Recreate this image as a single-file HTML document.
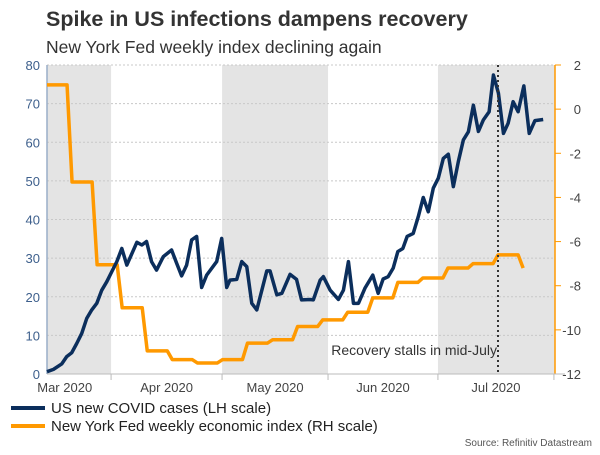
<!DOCTYPE html>
<html><head><meta charset="utf-8"><style>
html,body{margin:0;padding:0;background:#fff;}
body{width:600px;height:450px;overflow:hidden;font-family:"Liberation Sans",Arial,sans-serif;}
svg text{font-family:"Liberation Sans",Arial,sans-serif;}
</style></head><body>
<svg id="chart" width="600" height="450" xmlns="http://www.w3.org/2000/svg">
<text x="46" y="26" font-size="21.5" font-weight="bold" fill="#333">Spike in US infections dampens recovery</text>
<text x="46" y="53" font-size="17.5" fill="#333">New York Fed weekly index declining again</text>
<g id="bands"></g><g id="grid"></g><g id="axes"></g><g id="series"></g>
<line x1="498" y1="65" x2="498" y2="374" stroke="#333" stroke-width="2" stroke-dasharray="2,3"/>
<text x="497" y="355" font-size="14" fill="#333" text-anchor="end">Recovery stalls in mid-July</text>
<line x1="11" y1="408" x2="45" y2="408" stroke="#0b2e5c" stroke-width="4"/>
<text x="51" y="413" font-size="15" fill="#222">US new COVID cases (LH scale)</text>
<line x1="11" y1="426" x2="45" y2="426" stroke="#ff9900" stroke-width="4"/>
<text x="51" y="431" font-size="15" fill="#222">New York Fed weekly economic index (RH scale)</text>
<text x="592" y="446" font-size="10" fill="#555" text-anchor="end">Source: Refinitiv Datastream</text>
</svg>
<script>
const covidDays=[0,1.8,4.1,5.5,6.9,8.3,9.7,11.1,12.5,13.9,15.3,16.7,18.1,19.5,20.9,22.3,25.1,26.5,27.8,29.2,30.6,32.5,34.8,36.2,37.6,39.0,40.4,41.8,43.2,44.6,47.4,48.8,50.2,51.1,53.0,54.4,55.8,57.2,58.6,61.4,62.3,64.2,65.6,67.9,69.7,71.1,73.5,74.4,76.3,77.2,79.1,81.4,82.8,84.2,85.6,87.0,88.8,91.0,92.5,93.9,95.3,96.7,98.0,99.4,100.6,102.3,103.7,105.1,106.5,107.9,109.3,110.7,112.1,113.5,114.9,116.3,117.7,119.1,120.5,121.9,123.5,124.7,126.1,127.5,128.8,130.2,131.6,133.2,134.7,136.3,138.6];
const covidCases=[0.6,1.2,2.6,4.5,5.5,7.9,10.5,14.4,16.6,18.3,21.7,23.9,26.5,29.1,32.5,28.2,34.1,33.4,34.3,29.1,26.9,30.4,32.1,28.7,25.4,28.2,34.7,35.6,22.4,25.6,29.1,35.1,22.4,24.3,24.5,29.1,27.8,18.3,16.6,26.7,26.7,20.5,20.9,25.8,24.5,19.2,19.3,19.2,24.3,25.2,21.7,19.3,21.7,29.1,18.3,18.3,22.2,25.6,20.9,24.6,25.2,27.4,31.7,32.5,35.6,36.4,40.7,45.7,42.0,48.1,50.7,55.8,56.9,48.5,55.0,60.6,62.7,69.6,62.8,65.8,67.9,77.4,72.7,62.3,64.9,70.5,67.9,74.6,62.3,65.6,65.9];
const weekIndex=[0,1,2,3,4,5,6,7,8,9,10,11,12,13,14,15,16,17,18,19];
const nyfedIndex=[1.1,-3.3,-7.05,-9.0,-10.95,-11.35,-11.5,-11.35,-10.6,-10.45,-9.85,-9.55,-9.2,-8.55,-7.85,-7.65,-7.2,-7.0,-6.6,-7.2];
const leftTicks=[0,10,20,30,40,50,60,70,80];
const rightTicks=[2,0,-2,-4,-6,-8,-10,-12];
const monthLabels=["Mar 2020","Apr 2020","May 2020","Jun 2020","Jul 2020"];
const monthBoundaries=[17.9,48.9,78.5,109.2,141.6];
const shadedMonths=[[0,17.9],[48.9,78.5],[109.2,141.9]];

const NS="http://www.w3.org/2000/svg";
const X0=47,X1=555,Y0=374,Y1=65,DMAX=141.9;
const xs=d=>X0+d/DMAX*(X1-X0);
const yl=v=>Y0-v/80*(Y0-Y1);
const yr=v=>Y0-(v+12)/14*(Y0-Y1);
function mk(tag,attrs,parent){const e=document.createElementNS(NS,tag);for(const k in attrs)e.setAttribute(k,attrs[k]);document.getElementById(parent).appendChild(e);return e;}

shadedMonths.forEach(b=>{
  const r=mk('rect',{x:xs(b[0]),y:Y1,width:xs(b[1])-xs(b[0]),height:Y0-Y1,fill:'#e4e4e4'},'bands');
  
  
});
leftTicks.forEach(t=>{
  if(t>0){const g=mk('line',{x1:X0,x2:X1,y1:yl(t),y2:yl(t),stroke:'#c8c8c8','stroke-width':1,'stroke-dasharray':'2,2'},'grid');
  
  }
  const l=mk('text',{x:40,y:yl(t)+5,'font-size':13,fill:'#3d5f8c','text-anchor':'end'},'axes');
  l.textContent=t;
  
  
});
rightTicks.forEach(t=>{
  const tk=mk('line',{x1:X1,x2:X1+6,y1:yr(t),y2:yr(t),stroke:'#ff9900','stroke-width':1},'axes');
  
  
  const l=mk('text',{x:581,y:yr(t)+5,'font-size':13,fill:'#444','text-anchor':'end'},'axes');
  l.textContent=t;
  
  
});
const la=mk('line',{x1:X0,x2:X0,y1:Y1,y2:Y0,stroke:'#9aaec8','stroke-width':1.5},'axes');


const ra=mk('line',{x1:X1,x2:X1,y1:Y1,y2:Y0,stroke:'#ff9900','stroke-width':1.5},'axes');


const xa=mk('line',{x1:X0,x2:X1+10,y1:Y0,y2:Y0,stroke:'#bbb','stroke-width':1},'axes');


monthBoundaries.forEach((b,i)=>{
  const t=mk('line',{x1:xs(b),x2:xs(b),y1:Y0,y2:Y0+6,stroke:'#bbb'},'axes');
  
  
  const prev=i===0?-8:monthBoundaries[i-1];
  const l=mk('text',{x:(xs(prev)+xs(b))/2,y:Y0+18,'font-size':13,fill:'#444','text-anchor':'middle'},'axes');
  l.textContent=monthLabels[i];
  
  
});
let op=[];
weekIndex.forEach((w,i)=>{const d=w*7;op.push(xs(d)+','+yr(nyfedIndex[i]));if(i<weekIndex.length-1)op.push(xs(d+5.6)+','+yr(nyfedIndex[i]));});
const o=mk('polyline',{points:op.join(' '),fill:'none',stroke:'#ff9900','stroke-width':3.5,'stroke-linejoin':'round'},'series');


const bp=covidDays.map((d,i)=>xs(d)+','+yl(covidCases[i])).join(' ');
const b=mk('polyline',{points:bp,fill:'none',stroke:'#0b2e5c','stroke-width':3.5,'stroke-linejoin':'round'},'series');


</script>
</body></html>
